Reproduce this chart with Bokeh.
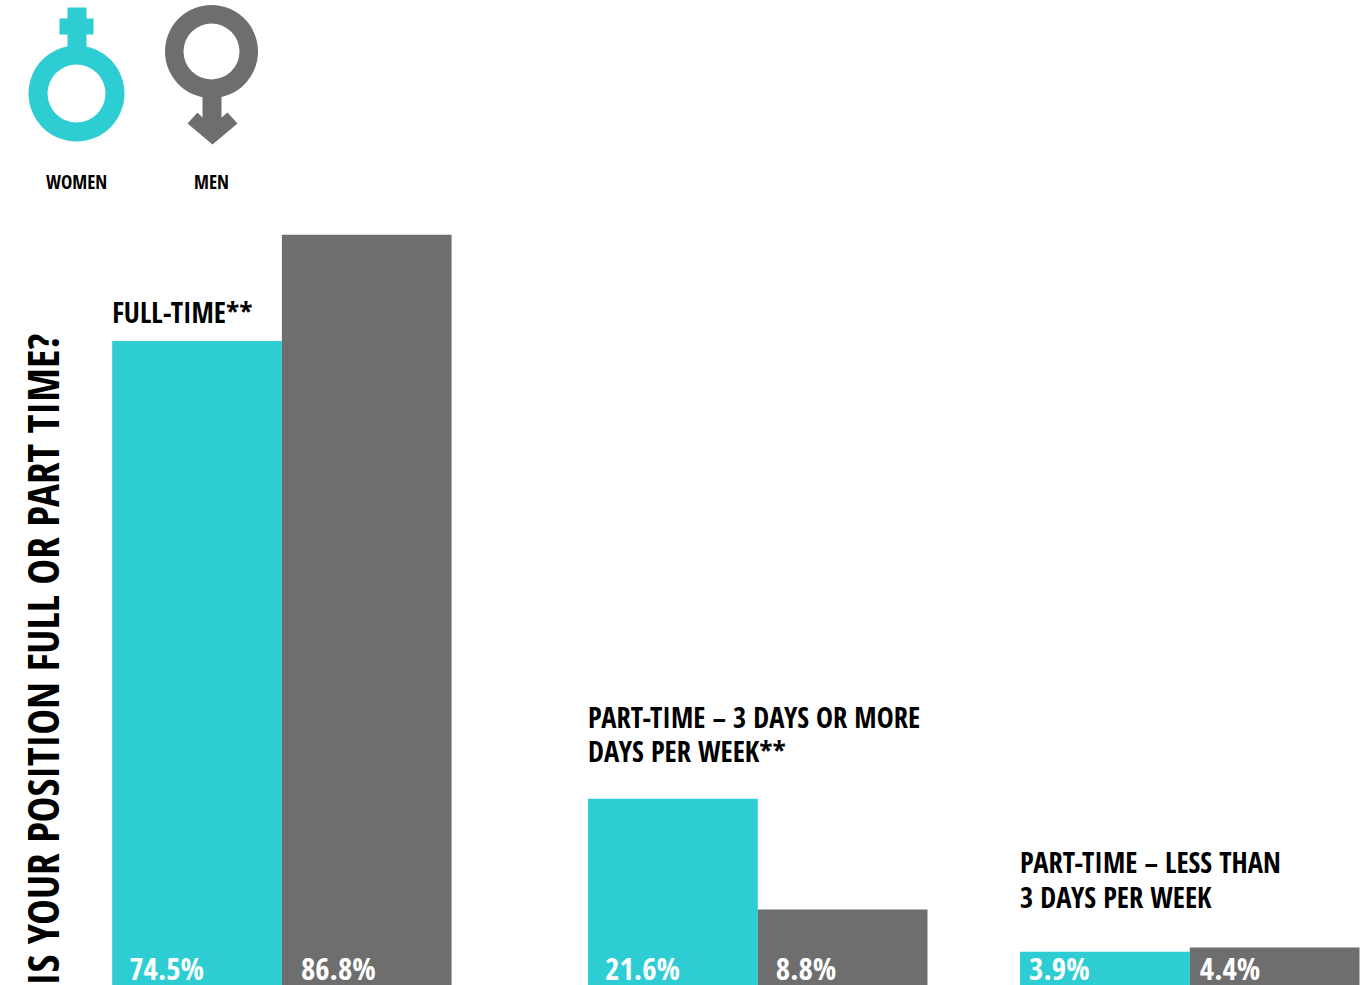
from bokeh.embed import file_html
from bokeh.models import Range1d
from bokeh.plotting import figure
from bokeh.resources import INLINE
from math import pi

# Survey values, percent of respondents
women_values = [74.5, 21.6, 3.9]
men_values = [86.8, 8.8, 4.4]
category_lines = [["FULL-TIME**"],
                  ["PART-TIME – 3 DAYS OR MORE", "DAYS PER WEEK**"],
                  ["PART-TIME – LESS THAN", "3 DAYS PER WEEK"]]
question = "IS YOUR POSITION FULL OR PART TIME?"
legend_labels = ["WOMEN", "MEN"]

# Layout and styling
W, H = 1371, 985
TEAL, GREY = "#2DCDD3", "#6E6E6E"
FONT = "Open Sans Condensed"
group_left = [111.7, 587.6, 1019.6]
bar_w = 169.7
women_offset = [17, 17, 9]
men_offset = [19, 18, 10]
label_center = [[311], [716, 750], [861, 896]]

p = figure(width=W, height=H, output_backend="svg", toolbar_location=None,
           x_range=Range1d(0, W), y_range=Range1d(0, H / 8.65),
           min_border=0, outline_line_color=None, background_fill_color="white",
           border_fill_color="white")
p.axis.visible = False
p.grid.visible = False
p.extra_y_ranges = {"px": Range1d(H, 0)}

women_x = [l + bar_w / 2 for l in group_left]
men_x = [l + bar_w * 1.5 for l in group_left]
p.vbar(x=women_x, top=women_values, bottom=0, width=bar_w, color=TEAL, line_color=None)
p.vbar(x=men_x, top=men_values, bottom=0, width=bar_w, color=GREY, line_color=None)

# Value labels along the foot of each bar
vx, vt = [], []
for l, o, v in zip(group_left, women_offset, women_values):
    vx.append(l + o)
    vt.append(f"{v}%")
for l, o, v in zip(group_left, men_offset, men_values):
    vx.append(l + bar_w + o)
    vt.append(f"{v}%")
p.text(x=vx, y=[967] * len(vx), text=vt, y_range_name="px", text_color="white",
       text_font={"value": FONT}, text_font_style="bold", text_font_size="31px",
       text_baseline="middle")

# Category headings above the bars
hx, hy, ht = [], [], []
for l, lines, centers in zip(group_left, category_lines, label_center):
    for line, y in zip(lines, centers):
        hx.append(l)
        hy.append(y)
        ht.append(line)
p.text(x=hx, y=hy, text=ht, y_range_name="px", text_color="#000000",
       text_font={"value": FONT}, text_font_style="bold", text_font_size="28.5px",
       text_baseline="middle")

# Vertical question running up the left edge
p.text(x=[42], y=[985], text=[question], y_range_name="px", angle=pi / 2,
       text_color="#000000", text_font={"value": FONT}, text_font_style="bold",
       text_font_size="43px", text_baseline="middle")

# Women symbol
p.annulus(x=[76], y=[93], inner_radius=29, outer_radius=48, y_range_name="px",
          color=TEAL, line_color=None)
p.quad(left=[67, 59], right=[86, 93], top=[7, 18], bottom=[48, 34], y_range_name="px",
       color=TEAL, line_color=None)

# Men symbol
p.annulus(x=[211], y=[51], inner_radius=28, outer_radius=46.5, y_range_name="px",
          color=GREY, line_color=None)
p.patch(x=[202, 221, 221, 227, 237, 212, 187, 197, 202],
        y=[94, 94, 117, 112, 123, 144, 123, 112, 117],
        y_range_name="px", color=GREY, line_color=None)

p.text(x=[76, 211], y=[181, 181], text=legend_labels, y_range_name="px",
       text_color="#000000", text_font={"value": FONT}, text_font_style="bold",
       text_font_size="19px", text_align="center", text_baseline="middle")

open("out.html", "w").write(file_html(p, INLINE))
